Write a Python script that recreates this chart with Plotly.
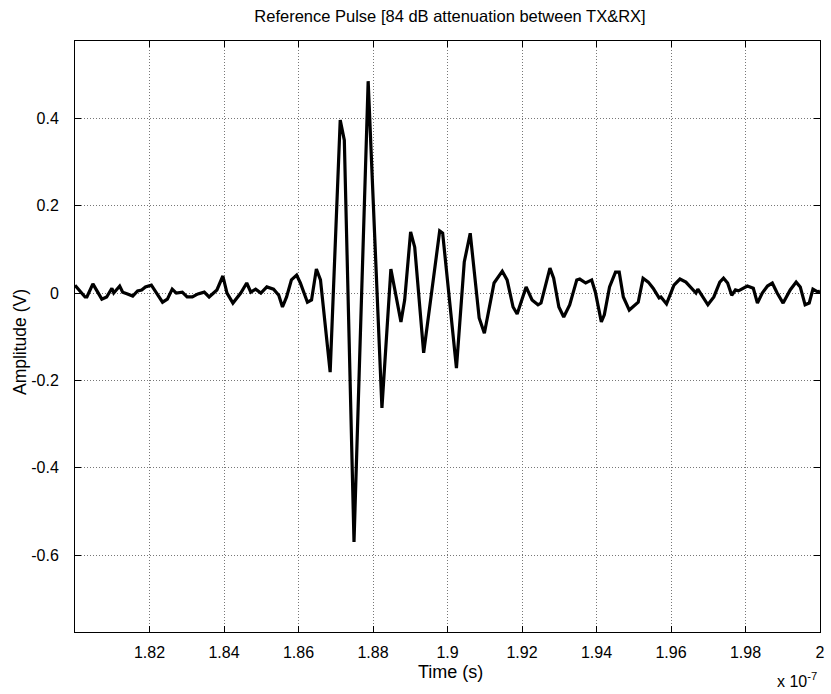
import plotly.graph_objects as go

# Time in nanoseconds, amplitude in volts
time_ns = [
    180.00, 180.27, 180.32, 180.48, 180.72, 180.85, 180.99, 181.04, 181.20, 181.28,
    181.41, 181.55, 181.68, 181.79, 181.89, 182.05, 182.19, 182.35, 182.48, 182.61,
    182.72, 182.88, 183.01, 183.15, 183.30, 183.47, 183.60, 183.81, 183.97, 184.08,
    184.24, 184.45, 184.61, 184.72, 184.85, 184.99, 185.15, 185.33, 185.47, 185.57,
    185.68, 185.81, 185.95, 186.05, 186.24, 186.35, 186.48, 186.59, 186.85, 187.12,
    187.23, 187.49, 187.87, 188.24, 188.48, 188.75, 188.85, 189.01, 189.12, 189.36,
    189.79, 189.87, 190.24, 190.45, 190.61, 190.85, 190.99, 191.25, 191.47, 191.60,
    191.76, 191.87, 192.11, 192.27, 192.43, 192.51, 192.75, 192.85, 192.99, 193.12,
    193.28, 193.47, 193.55, 193.71, 193.87, 193.97, 194.13, 194.21, 194.35, 194.51,
    194.61, 194.72, 194.88, 195.12, 195.25, 195.39, 195.52, 195.68, 195.73, 195.88,
    196.08, 196.24, 196.40, 196.59, 196.67, 196.72, 196.85, 196.99, 197.15, 197.31,
    197.41, 197.52, 197.63, 197.73, 197.81, 197.95, 198.05, 198.21, 198.32, 198.45,
    198.59, 198.72, 198.85, 199.01, 199.20, 199.36, 199.47, 199.60, 199.71, 199.81,
    199.95, 200.00,
]
amplitude_v = [
    0.018, -0.009, -0.009, 0.021, -0.014, -0.009, 0.011, 0.000, 0.016, 0.002,
    -0.002, -0.007, 0.005, 0.007, 0.014, 0.018, 0.000, -0.021, -0.014, 0.009,
    0.000, 0.002, -0.009, -0.009, -0.002, 0.002, -0.009, 0.007, 0.039, 0.000,
    -0.023, 0.000, 0.023, 0.002, 0.009, 0.000, 0.014, 0.009, -0.005, -0.032,
    -0.009, 0.030, 0.041, 0.023, -0.021, -0.016, 0.055, 0.030, -0.181, 0.396,
    0.350, -0.570, 0.485, -0.263, 0.055, -0.066, -0.016, 0.140, 0.105, -0.137,
    0.142, 0.137, -0.172, 0.071, 0.137, -0.057, -0.092, 0.023, 0.050, 0.030,
    -0.032, -0.048, 0.014, -0.016, -0.027, -0.023, 0.057, 0.034, -0.032, -0.055,
    -0.027, 0.030, 0.032, 0.023, 0.030, 0.002, -0.066, -0.050, 0.014, 0.048,
    0.048, -0.009, -0.039, -0.021, 0.034, 0.025, 0.011, -0.011, -0.009, -0.025,
    0.018, 0.032, 0.025, 0.007, 0.000, 0.009, -0.009, -0.027, -0.009, 0.025,
    0.034, 0.023, -0.005, 0.007, 0.005, 0.011, 0.016, 0.011, -0.023, 0.000,
    0.016, 0.023, 0.000, -0.023, 0.007, 0.025, 0.014, -0.027, -0.023, 0.009,
    0.002, 0.005,
]

x_tick_vals = [1.82e-7, 1.84e-7, 1.86e-7, 1.88e-7, 1.90e-7, 1.92e-7, 1.94e-7, 1.96e-7, 1.98e-7, 2.00e-7]
x_tick_text = ["1.82", "1.84", "1.86", "1.88", "1.9", "1.92", "1.94", "1.96", "1.98", "2"]
y_tick_vals = [-0.6, -0.4, -0.2, 0, 0.2, 0.4]
y_tick_text = ["-0.6", "-0.4", "-0.2", "0", "0.2", "0.4"]

time_s = [t * 1e-9 for t in time_ns]

FONT = "Liberation Sans, Arial, Helvetica, sans-serif"

fig = go.Figure()
fig.add_trace(go.Scatter(
    x=time_s, y=amplitude_v, mode="lines",
    line=dict(color="black", width=3.2),
    showlegend=False, hoverinfo="skip",
))

axis_common = dict(
    showline=True, linecolor="black", linewidth=1, mirror="ticks",
    ticks="inside", ticklen=6, tickcolor="black",
    showgrid=True, gridcolor="#777777", griddash="1px,2px", gridwidth=1,
    zeroline=False,
    tickfont=dict(family=FONT, size=16, color="black"),
)

fig.update_layout(
    width=831, height=694,
    margin=dict(l=75, r=6, t=41, b=62),
    paper_bgcolor="white", plot_bgcolor="white",
    font=dict(family=FONT, color="black"),
    title=dict(
        text="Reference Pulse [84 dB attenuation between TX&RX]",
        x=(75 + 825) / 2 / 831, xanchor="center",
        y=1 - 16 / 694, yanchor="middle",
        font=dict(family=FONT, size=16.5, color="black"),
    ),
    xaxis=dict(range=[1.80e-7, 2.00e-7], tickvals=x_tick_vals, ticktext=x_tick_text,
               ticklabelstandoff=6, **axis_common),
    yaxis=dict(range=[-0.776, 0.577], tickvals=y_tick_vals, ticktext=y_tick_text,
               ticklabelstandoff=12, **axis_common),
    annotations=[
        dict(text="Time (s)", xref="paper", yref="paper", x=0.504, y=-0.0677,
             xanchor="center", yanchor="middle", showarrow=False,
             font=dict(family=FONT, size=18, color="black")),
        dict(text="Amplitude (V)", xref="paper", yref="paper", x=-0.073, y=0.49,
             xanchor="center", yanchor="middle", textangle=-90, showarrow=False,
             font=dict(family=FONT, size=17.5, color="black")),
        dict(text="x 10<sup>-7</sup>", xref="paper", yref="paper", x=0.999, y=-0.101,
             xanchor="right", yanchor="bottom", showarrow=False,
             font=dict(family=FONT, size=16, color="black")),
    ],
)

fig.write_html("out.html")
